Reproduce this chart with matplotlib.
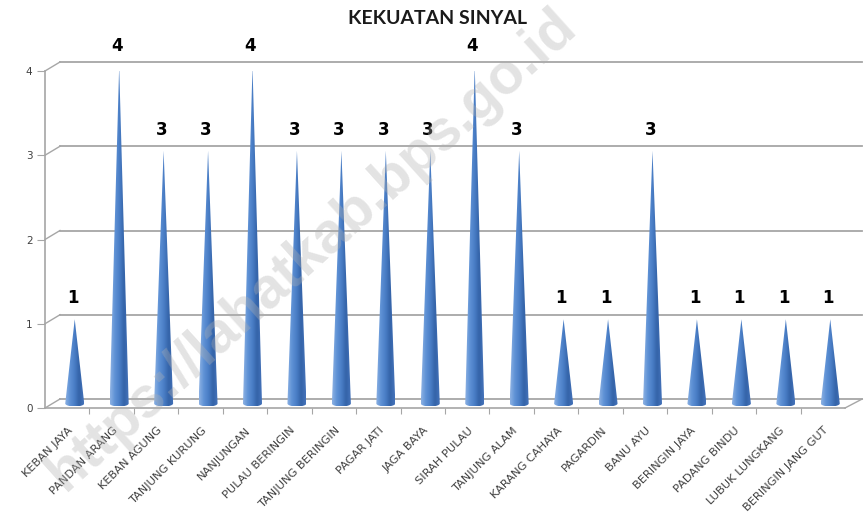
import matplotlib
matplotlib.use('Agg')
import matplotlib.pyplot as plt
import numpy as np
from matplotlib.patches import Polygon
from matplotlib.colors import LinearSegmentedColormap

# data
desa = ['KEBAN JAYA', 'PANDAN ARANG', 'KEBAN AGUNG', 'TANJUNG KURUNG', 'NANJUNGAN',
        'PULAU BERINGIN', 'TANJUNG BERINGIN', 'PAGAR JATI', 'JAGA BAYA', 'SIRAH PULAU',
        'TANJUNG ALAM', 'KARANG CAHAYA', 'PAGARDIN', 'BANU AYU', 'BERINGIN JAYA',
        'PADANG BINDU', 'LUBUK LUNGKANG', 'BERINGIN JANG GUT']
sinyal = [1, 4, 3, 3, 4, 3, 3, 3, 3, 4, 3, 1, 1, 3, 1, 1, 1, 1]
y_ticks = [0, 1, 2, 3, 4]

W, H = 865, 525
fig = plt.figure(figsize=(W / 100, H / 100), dpi=100)
fig.patch.set_facecolor('white')

# axes = front plane: x=-0.5 at px 45, x=17.5 at px 845; y=0 at px 408, y=4 at px 71
ax = fig.add_axes([45 / W, (H - 408) / H, 800 / W, 337 / H])
ax.set_facecolor('none')

px_x = 800 / len(desa)
px_y = 337 / 4
dx = 15 / px_x      # depth offset (back wall)
dy = 9 / px_y
grid_c = '#a6a6a6'

# back wall gridlines + connectors
for v in y_ticks:
    ax.plot([-0.5 + dx, len(desa) - 0.5 + dx + 0.05], [v + dy, v + dy],
            color=grid_c, lw=1.3, clip_on=False, zorder=1)
    ax.plot([-0.5, -0.5 + dx], [v, v + dy], color=grid_c, lw=1.0, clip_on=False, zorder=1)
ax.plot([len(desa) - 0.5, len(desa) - 0.5 + dx + 0.05], [0, dy],
        color=grid_c, lw=1.0, clip_on=False, zorder=1)

# cones
cmap = LinearSegmentedColormap.from_list('cone', ['#8cb1e3', '#5f92d6', '#4a7ec6', '#3463a8', '#4573ba'])
grad = np.linspace(0, 1, 64).reshape(1, -1)
half_w = 9.5 / px_x
ell_h = 3.0 / px_y
t = np.linspace(np.pi, 2 * np.pi, 30)
for i, v in enumerate(sinyal):
    cx = i + dx / 2
    base = dy / 2
    tip = v + dy / 2
    pts = [(cx, tip)] + [(cx + half_w * np.cos(tt), base + ell_h * np.sin(tt)) for tt in t]
    poly = Polygon(pts, closed=True, facecolor='none', edgecolor='none')
    ax.add_patch(poly)
    im = ax.imshow(grad, cmap=cmap, aspect='auto', interpolation='bicubic',
                   extent=(cx - half_w, cx + half_w, base - ell_h, tip), zorder=3)
    im.set_clip_path(poly)
    ax.annotate(str(v), (cx - 0.05, tip), xytext=(0, 15), textcoords='offset points',
                ha='center', va='center', fontsize=12, fontweight='bold',
                color='black', zorder=5, annotation_clip=False)

ax.set_xlim(-0.5, len(desa) - 0.5)
ax.set_ylim(0, 4)

# axes styling
for s in ['top', 'right']:
    ax.spines[s].set_visible(False)
for s in ['left', 'bottom']:
    ax.spines[s].set_color(grid_c)
    ax.spines[s].set_linewidth(1.2)
ax.set_yticks(y_ticks)
ax.set_yticklabels([str(v) for v in y_ticks], fontsize=7.5, color='#404040')
ax.tick_params(axis='y', length=6, color=grid_c, pad=3)
ax.set_xticks(np.arange(0.5, len(desa) - 0.5, 1))
ax.set_xticklabels([])
ax.tick_params(axis='x', length=4, color=grid_c, direction='out')

# category labels
for i, name in enumerate(desa):
    ax.annotate(name, (i, 0), xytext=(3, -15), textcoords='offset points',
                ha='right', va='center', rotation=45, rotation_mode='anchor',
                fontsize=8.2, color='#404040', annotation_clip=False)

fig.text(438 / W, 1 - 18 / H, 'KEKUATAN SINYAL', ha='center', va='center',
         fontsize=14, fontweight='bold', family='Lato', color='#1a1a1a')

# watermark
fig.text(312 / W, 1 - 250 / H, 'https://lahatkab.bps.go.id', ha='center', va='center',
         rotation=42, fontsize=41, fontweight='bold', family='Liberation Sans',
         color='#b0b0b0', alpha=0.35, zorder=10)

fig.savefig('out.png', dpi=100, facecolor='white')
